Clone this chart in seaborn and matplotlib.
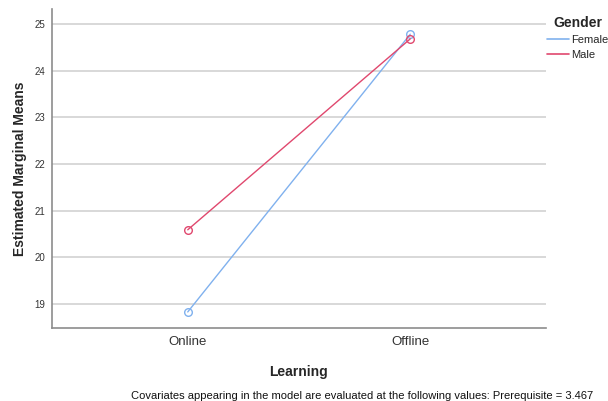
import matplotlib
matplotlib.use("Agg")
import matplotlib.pyplot as plt
from matplotlib.lines import Line2D
import seaborn as sns
import pandas as pd

learning = ["Online", "Offline"]
genders = ["Female", "Male"]
female_means = [18.83, 24.78]
male_means = [20.59, 24.68]
yticks = [19, 20, 21, 22, 23, 24, 25]
footnote = "Covariates appearing in the model are evaluated at the following values: Prerequisite = 3.467"

palette = {"Female": "#80b1ee", "Male": "#e0486e"}

df = pd.DataFrame({
    "Learning": learning * 2,
    "Gender": ["Female"] * 2 + ["Male"] * 2,
    "Mean": female_means + male_means,
})

sns.set_theme(style="white")
plt.rcParams["font.family"] = ["Liberation Sans", "DejaVu Sans"]

fig = plt.figure(figsize=(6.08, 4.01), dpi=100)
ax = fig.add_axes([52 / 608, 1 - 328 / 401, (546 - 52) / 608, (328 - 9) / 401])

sns.lineplot(data=df, x="Learning", y="Mean", hue="Gender", palette=palette,
             hue_order=genders, marker="o", markersize=5.5, markerfacecolor="none",
             markeredgewidth=1.0, linewidth=1.0, legend=False, ax=ax, sort=False)
for ln in ax.lines:
    ln.set_markeredgecolor(ln.get_color())
    ln.set_zorder(3)

ax.set_xlim(-0.61, 1.61)
ax.set_ylim(18.486, 25.32)
ax.set_yticks(yticks)
ax.set_yticklabels([str(t) for t in yticks], fontsize=7, color="#333333")
ax.tick_params(axis="x", labelsize=9.5, colors="#333333", length=0, pad=6)
ax.tick_params(axis="y", length=0, pad=5)
ax.yaxis.grid(True, color="#d2d2d2", linewidth=1.2)
ax.set_axisbelow(True)
for side in ["top", "right"]:
    ax.spines[side].set_visible(False)
for side in ["left", "bottom"]:
    ax.spines[side].set_color("#8c8c8c")
    ax.spines[side].set_linewidth(1.2)

ax.set_xlabel("Learning", fontsize=10, fontweight="bold", labelpad=12)
ax.set_ylabel("Estimated Marginal Means", fontsize=10, fontweight="bold", labelpad=5.5)

handles = [Line2D([0], [0], color=palette[g], linewidth=1.2) for g in genders]
leg = fig.legend(handles, genders, title="Gender", loc="upper left",
                 bbox_to_anchor=(547 / 608, 1 - 16 / 401), frameon=False,
                 fontsize=8, title_fontproperties={"weight": "bold", "size": 10},
                 handlelength=2.0, handletextpad=0.2, labelspacing=0.45,
                 borderaxespad=0, borderpad=0, alignment="center")

fig.text(362 / 608, 1 - 396 / 401, footnote, fontsize=8, ha="center", va="center",
         color="#111111")

fig.savefig("out.png", dpi=100, facecolor="white")
